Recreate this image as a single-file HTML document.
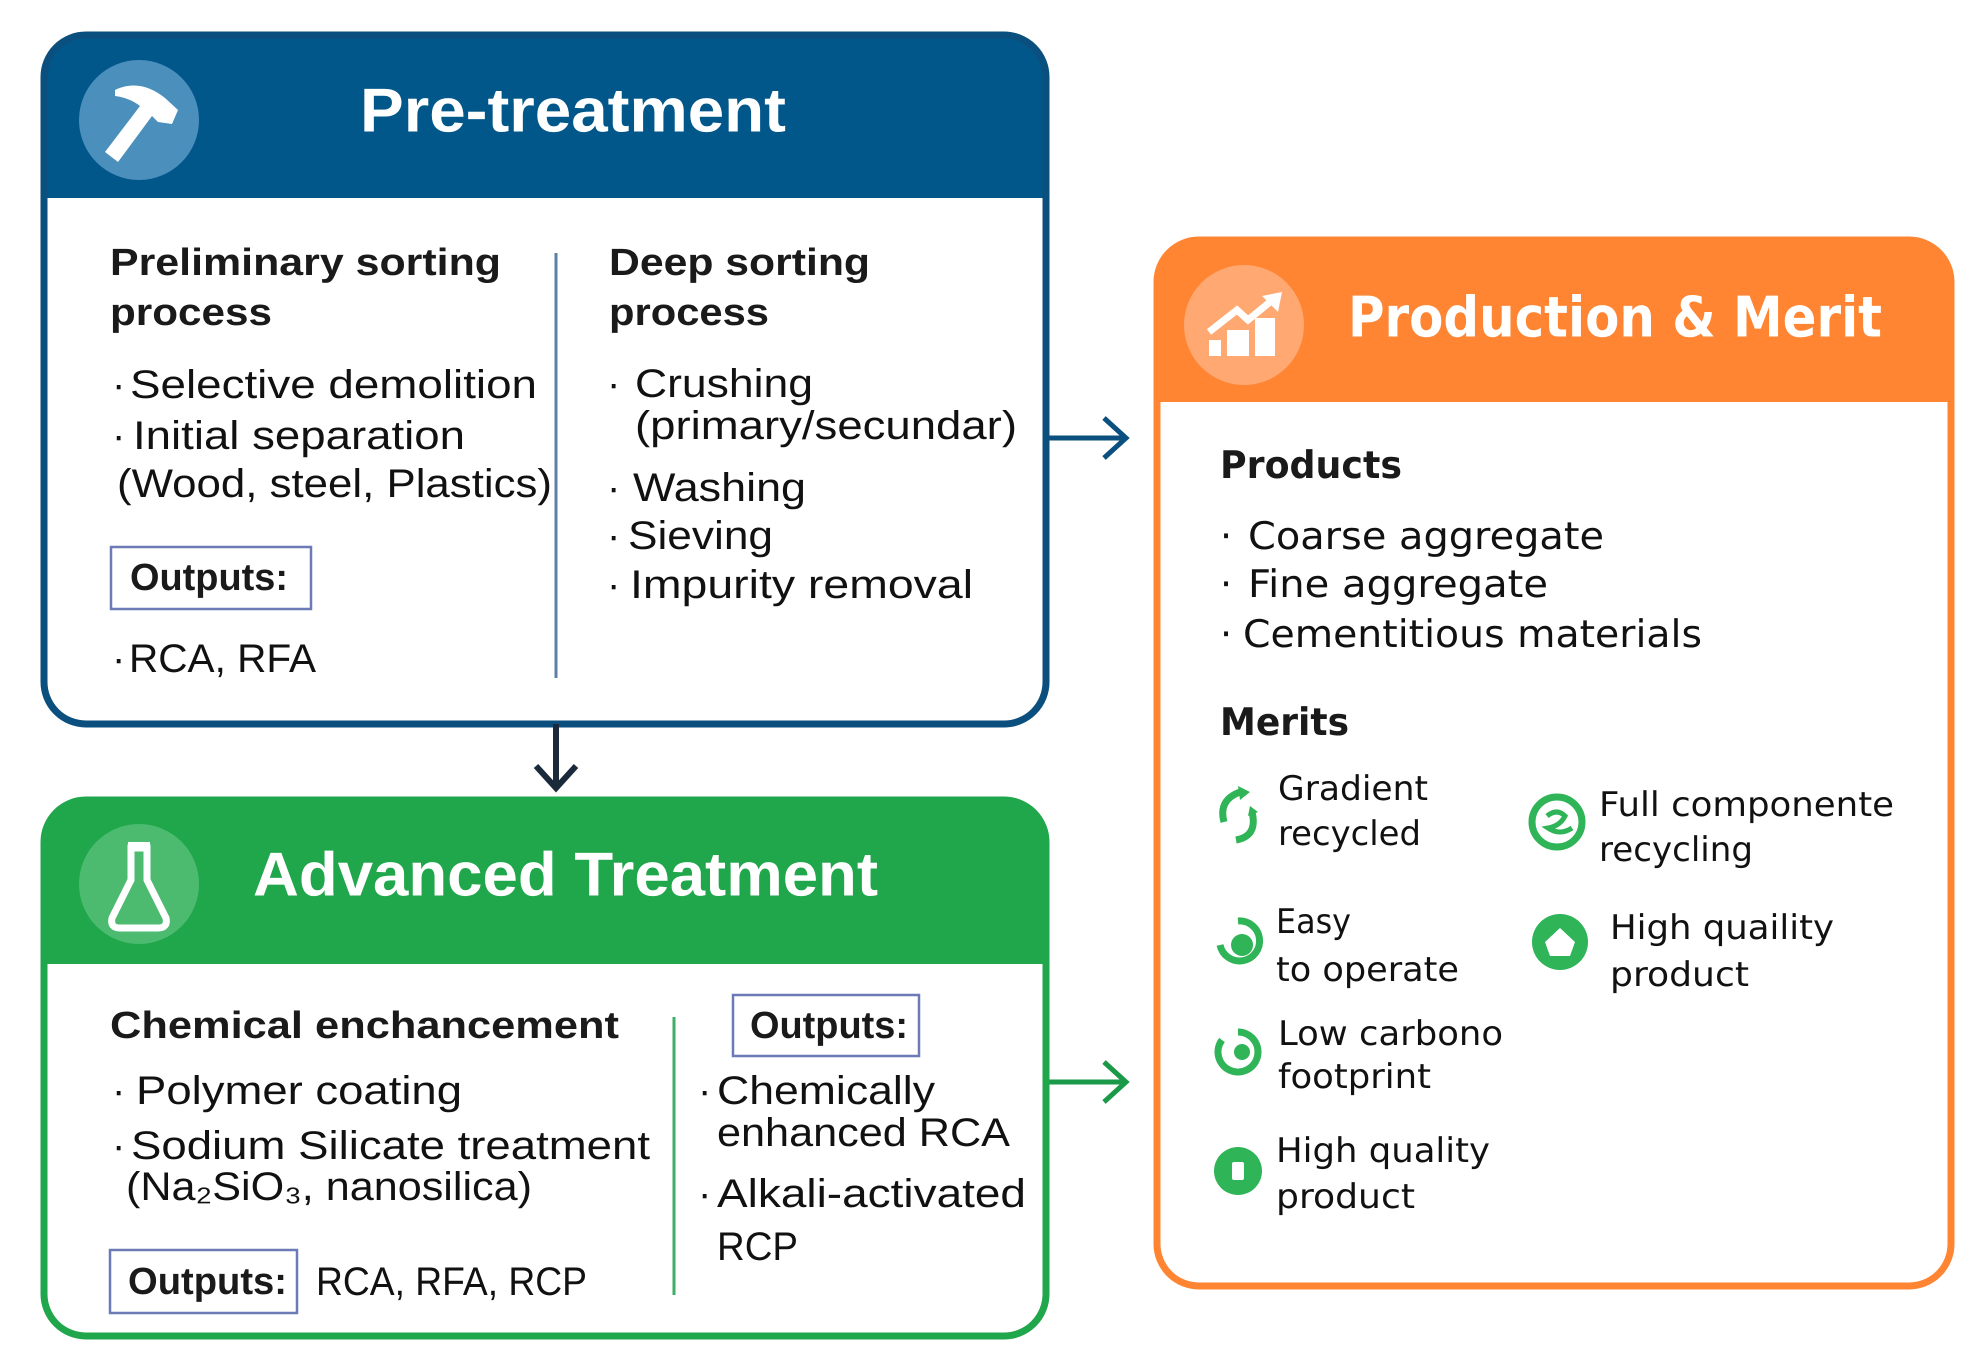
<!DOCTYPE html>
<html><head><meta charset="utf-8"><style>
html,body{margin:0;padding:0;background:#fff;}
svg{display:block;}
.h{font-family:"Liberation Sans",sans-serif;font-weight:bold;fill:#1a1a1a;font-size:38px;}
.b{font-family:"Liberation Sans",sans-serif;fill:#111;font-size:40px;}
.t{font-family:"Liberation Sans",sans-serif;font-weight:bold;fill:#fff;font-size:62px;}
.d{font-family:"DejaVu Sans",sans-serif;fill:#111;font-size:38px;}
.dh{font-family:"DejaVu Sans",sans-serif;font-weight:bold;fill:#1a1a1a;font-size:38px;}
.m{font-family:"DejaVu Sans",sans-serif;fill:#111;font-size:34px;}
</style></head><body>
<svg width="1970" height="1364" viewBox="0 0 1970 1364" xmlns="http://www.w3.org/2000/svg">
<defs>
<clipPath id="c1"><rect x="44" y="35" width="1002" height="689" rx="42"/></clipPath>
<clipPath id="c2"><rect x="44" y="800" width="1002" height="536" rx="42"/></clipPath>
<clipPath id="c3"><rect x="1157" y="240" width="794" height="1046" rx="42"/></clipPath>
</defs>
<g text-rendering="geometricPrecision" dominant-baseline="central">
<!-- Pre-treatment -->
<rect x="44" y="35" width="1002" height="689" rx="42" fill="#fff"/>
<rect x="44" y="35" width="1002" height="163" fill="#02578a" clip-path="url(#c1)"/>
<rect x="44" y="35" width="1002" height="689" rx="42" fill="none" stroke="#0b4f7e" stroke-width="7"/>
<circle cx="139" cy="120" r="60" fill="#4b8fbd"/>
<g fill="#fff"><path d="M115 90 Q140 78 165 98 L178 110 L172 124 L158 122 L152 116 L118 162 L105 152 L140 106 Q130 98 115 96 Z"/></g>
<text class="t" x="360" y="111" textLength="426" lengthAdjust="spacingAndGlyphs">Pre-treatment</text>
<text class="h" x="110" y="263" textLength="391" lengthAdjust="spacingAndGlyphs">Preliminary sorting</text>
<text class="h" x="110" y="313" textLength="162" lengthAdjust="spacingAndGlyphs">process</text>
<text class="b" x="112" y="385">·</text><text class="b" x="130" y="385" textLength="407" lengthAdjust="spacingAndGlyphs">Selective demolition</text>
<text class="b" x="112" y="436">·</text><text class="b" x="133" y="436" textLength="332" lengthAdjust="spacingAndGlyphs">Initial separation</text>
<text class="b" x="117" y="484" textLength="435" lengthAdjust="spacingAndGlyphs">(Wood, steel, Plastics)</text>
<rect x="111" y="547" width="200" height="62" fill="#fff" stroke="#6c7bb5" stroke-width="2.5"/>
<text class="h" x="130" y="578" textLength="158" lengthAdjust="spacingAndGlyphs">Outputs:</text>
<text class="b" x="112" y="659">·</text><text class="b" x="129" y="659" textLength="187" lengthAdjust="spacingAndGlyphs">RCA, RFA</text>
<line x1="556" y1="253" x2="556" y2="678" stroke="#5e7fa8" stroke-width="3"/>
<text class="h" x="609" y="263" textLength="261" lengthAdjust="spacingAndGlyphs">Deep sorting</text>
<text class="h" x="609" y="313" textLength="160" lengthAdjust="spacingAndGlyphs">process</text>
<text class="b" x="607" y="384">·</text><text class="b" x="635" y="384" textLength="178" lengthAdjust="spacingAndGlyphs">Crushing</text>
<text class="b" x="635" y="426" textLength="382" lengthAdjust="spacingAndGlyphs">(primary/secundar)</text>
<text class="b" x="607" y="488">·</text><text class="b" x="633" y="488" textLength="173" lengthAdjust="spacingAndGlyphs">Washing</text>
<text class="b" x="607" y="536">·</text><text class="b" x="628" y="536" textLength="145" lengthAdjust="spacingAndGlyphs">Sieving</text>
<text class="b" x="607" y="585">·</text><text class="b" x="630" y="585" textLength="343" lengthAdjust="spacingAndGlyphs">Impurity removal</text>
<!-- arrows -->
<line x1="1046" y1="438" x2="1124" y2="438" stroke="#0b4f7e" stroke-width="5"/>
<polyline points="1104,418 1126,438 1104,458" fill="none" stroke="#0b4f7e" stroke-width="5"/>
<line x1="556" y1="724" x2="556" y2="786" stroke="#1a2a3a" stroke-width="6"/>
<polyline points="536,766 556,788 576,766" fill="none" stroke="#1a2a3a" stroke-width="6"/>
<line x1="1046" y1="1082" x2="1124" y2="1082" stroke="#1a9a48" stroke-width="5"/>
<polyline points="1104,1062 1126,1082 1104,1102" fill="none" stroke="#1a9a48" stroke-width="5"/>
<!-- Advanced -->
<rect x="44" y="800" width="1002" height="536" rx="42" fill="#fff"/>
<rect x="44" y="800" width="1002" height="164" fill="#20a64b" clip-path="url(#c2)"/>
<rect x="44" y="800" width="1002" height="536" rx="42" fill="none" stroke="#20a64b" stroke-width="7"/>
<circle cx="139" cy="884" r="60" fill="#4cbb70"/>
<path d="M131 848 L147 848 L147 880 L166 918 Q168 928 158 928 L120 928 Q110 928 112 918 L131 880 Z" fill="none" stroke="#fff" stroke-width="7"/>
<rect x="128" y="842" width="22" height="8" fill="#fff"/>
<text class="t" x="253" y="875" textLength="625" lengthAdjust="spacingAndGlyphs">Advanced Treatment</text>
<text class="h" x="110" y="1026" textLength="509" lengthAdjust="spacingAndGlyphs">Chemical enchancement</text>
<text class="b" x="112" y="1091">·</text><text class="b" x="136" y="1091" textLength="326" lengthAdjust="spacingAndGlyphs">Polymer coating</text>
<text class="b" x="112" y="1146">·</text><text class="b" x="131" y="1146" textLength="519" lengthAdjust="spacingAndGlyphs">Sodium Silicate treatment</text>
<text class="b" x="126" y="1187" textLength="406" lengthAdjust="spacingAndGlyphs">(Na₂SiO₃, nanosilica)</text>
<rect x="110" y="1250" width="187" height="63" fill="#fff" stroke="#6c7bb5" stroke-width="2.5"/>
<text class="h" x="128" y="1282" textLength="159" lengthAdjust="spacingAndGlyphs">Outputs:</text>
<text class="b" x="316" y="1282" textLength="271" lengthAdjust="spacingAndGlyphs">RCA, RFA, RCP</text>
<line x1="674" y1="1017" x2="674" y2="1295" stroke="#3fae66" stroke-width="3"/>
<rect x="733" y="995" width="186" height="61" fill="#fff" stroke="#6c7bb5" stroke-width="2.5"/>
<text class="h" x="750" y="1026" textLength="158" lengthAdjust="spacingAndGlyphs">Outputs:</text>
<text class="b" x="698" y="1091">·</text><text class="b" x="717" y="1091" textLength="218" lengthAdjust="spacingAndGlyphs">Chemically</text>
<text class="b" x="717" y="1133" textLength="293" lengthAdjust="spacingAndGlyphs">enhanced RCA</text>
<text class="b" x="698" y="1194">·</text><text class="b" x="717" y="1194" textLength="309" lengthAdjust="spacingAndGlyphs">Alkali-activated</text>
<text class="b" x="717" y="1247" textLength="81" lengthAdjust="spacingAndGlyphs">RCP</text>
<!-- Production -->
<rect x="1157" y="240" width="794" height="1046" rx="42" fill="#fff"/>
<rect x="1157" y="240" width="794" height="162" fill="#ff8533" clip-path="url(#c3)"/>
<rect x="1157" y="240" width="794" height="1046" rx="42" fill="none" stroke="#ff8533" stroke-width="7"/>
<circle cx="1244" cy="325" r="60" fill="#ffa872"/>
<g fill="#fff"><rect x="1209" y="340" width="12" height="16"/><rect x="1227" y="330" width="22" height="26"/><rect x="1255" y="318" width="20" height="38"/>
<polyline points="1209,332 1237,310 1248,320 1270,302" fill="none" stroke="#fff" stroke-width="7"/><polygon points="1262,296 1282,292 1278,312"/></g>
<text class="t" x="1348" y="318" textLength="534" lengthAdjust="spacingAndGlyphs" style="font-family:'DejaVu Sans',sans-serif;font-size:56px">Production &amp; Merit</text>
<text class="dh" x="1220" y="465" textLength="182" lengthAdjust="spacingAndGlyphs">Products</text>
<text class="d" x="1220" y="536">·</text><text class="d" x="1248" y="536" textLength="356" lengthAdjust="spacingAndGlyphs">Coarse aggregate</text>
<text class="d" x="1220" y="584">·</text><text class="d" x="1248" y="584" textLength="300" lengthAdjust="spacingAndGlyphs">Fine aggregate</text>
<text class="d" x="1220" y="634">·</text><text class="d" x="1243" y="634" textLength="459" lengthAdjust="spacingAndGlyphs">Cementitious materials</text>
<text class="dh" x="1220" y="722" textLength="129" lengthAdjust="spacingAndGlyphs">Merits</text>
<g fill="none" stroke="#2fb457" stroke-width="7">
<path d="M1240 792 Q1218 800 1224 822 M1252 812 Q1258 836 1236 840"/>
<circle cx="1557" cy="822" r="25"/>
<path d="M1238 921 A20 20 0 1 1 1220 945"/>
<path d="M1238 1032 A20 20 0 1 1 1222 1040"/>
</g>
<g fill="#2fb457">
<polygon points="1238,786 1250,792 1240,800"/><polygon points="1250,806 1258,812 1248,816"/>
<circle cx="1560" cy="942" r="28"/><circle cx="1238" cy="1171" r="24"/><circle cx="1242" cy="945" r="11"/><circle cx="1242" cy="1052" r="8"/>
</g>
<polygon points="1560,928 1575,942 1570,956 1550,956 1545,942" fill="#fff"/>
<rect x="1232" y="1162" width="12" height="18" rx="2" fill="#fff"/>
<path d="M1547 816 Q1557 808 1565 816 Q1560 826 1548 828 Q1560 836 1572 828" fill="none" stroke="#2fb457" stroke-width="5"/>
<text class="m" x="1278" y="789" textLength="150" lengthAdjust="spacingAndGlyphs">Gradient</text>
<text class="m" x="1278" y="834" textLength="143" lengthAdjust="spacingAndGlyphs">recycled</text>
<text class="m" x="1599" y="805" textLength="295" lengthAdjust="spacingAndGlyphs">Full componente</text>
<text class="m" x="1599" y="850" textLength="154" lengthAdjust="spacingAndGlyphs">recycling</text>
<text class="m" x="1276" y="922" textLength="75" lengthAdjust="spacingAndGlyphs">Easy</text>
<text class="m" x="1276" y="970" textLength="183" lengthAdjust="spacingAndGlyphs">to operate</text>
<text class="m" x="1610" y="928" textLength="224" lengthAdjust="spacingAndGlyphs">High quaility</text>
<text class="m" x="1610" y="975" textLength="139" lengthAdjust="spacingAndGlyphs">product</text>
<text class="m" x="1278" y="1034" textLength="225" lengthAdjust="spacingAndGlyphs">Low carbono</text>
<text class="m" x="1278" y="1077" textLength="153" lengthAdjust="spacingAndGlyphs">footprint</text>
<text class="m" x="1276" y="1151" textLength="214" lengthAdjust="spacingAndGlyphs">High quality</text>
<text class="m" x="1276" y="1197" textLength="139" lengthAdjust="spacingAndGlyphs">product</text>
</g>
</svg>
</body></html>
